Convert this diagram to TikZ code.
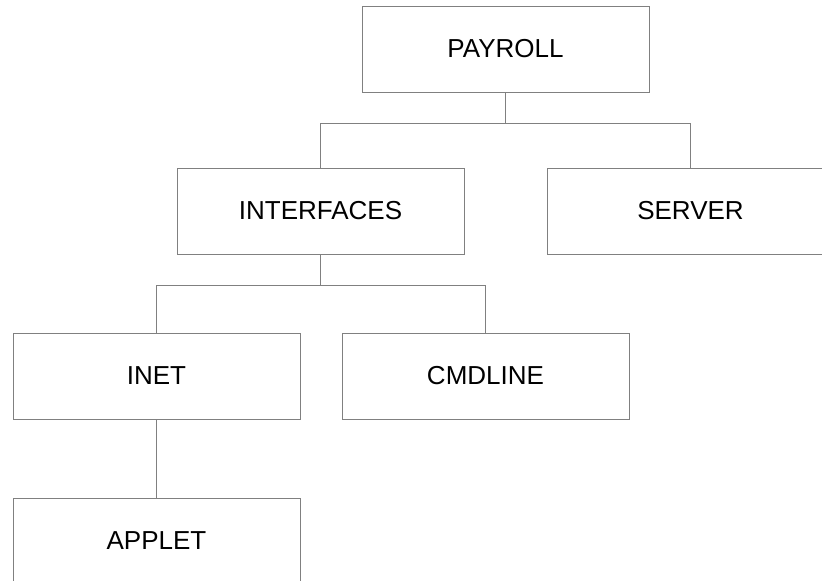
\documentclass[tikz,border=0pt]{standalone}
\usepackage{fontspec}
\setmainfont{Liberation Sans}
\usetikzlibrary{positioning}

\begin{document}
\begin{tikzpicture}[
    x=1pt, y=-1pt,
    node distance=78pt and 41pt,
    box/.style={rectangle, draw=black!50, line width=1pt, minimum width=287pt, minimum height=86pt, inner sep=0pt, font=\fontsize{26}{30}\selectfont},
    link/.style={draw=black!50, line width=1pt}
  ]
    \useasboundingbox (0,0) rectangle (822,581);
    \clip (0,0) rectangle (822,581);

    % Package tree
    \node[box] (payroll) at (505.5,49) {PAYROLL};
    \node[box] (interfaces) at (320.5,211) {INTERFACES};
    \node[box] (server) at (690.5,211) {SERVER};
    \node[box] (inet) at (156.5,376) {INET};
    \node[box, right=of inet] (cmdline) {CMDLINE};
    \node[box, below=of inet] (applet) {APPLET};

    % Connectors
    \draw[link] (payroll.south) -- ++(0,31) coordinate (top) -| (interfaces.north);
    \draw[link] (top) -| (server.north);
    \draw[link] (interfaces.south) -- ++(0,31) coordinate (mid) -| (inet.north);
    \draw[link] (mid) -| (cmdline.north);
    \draw[link] (inet) -- (applet);
  \end{tikzpicture}
\end{document}
